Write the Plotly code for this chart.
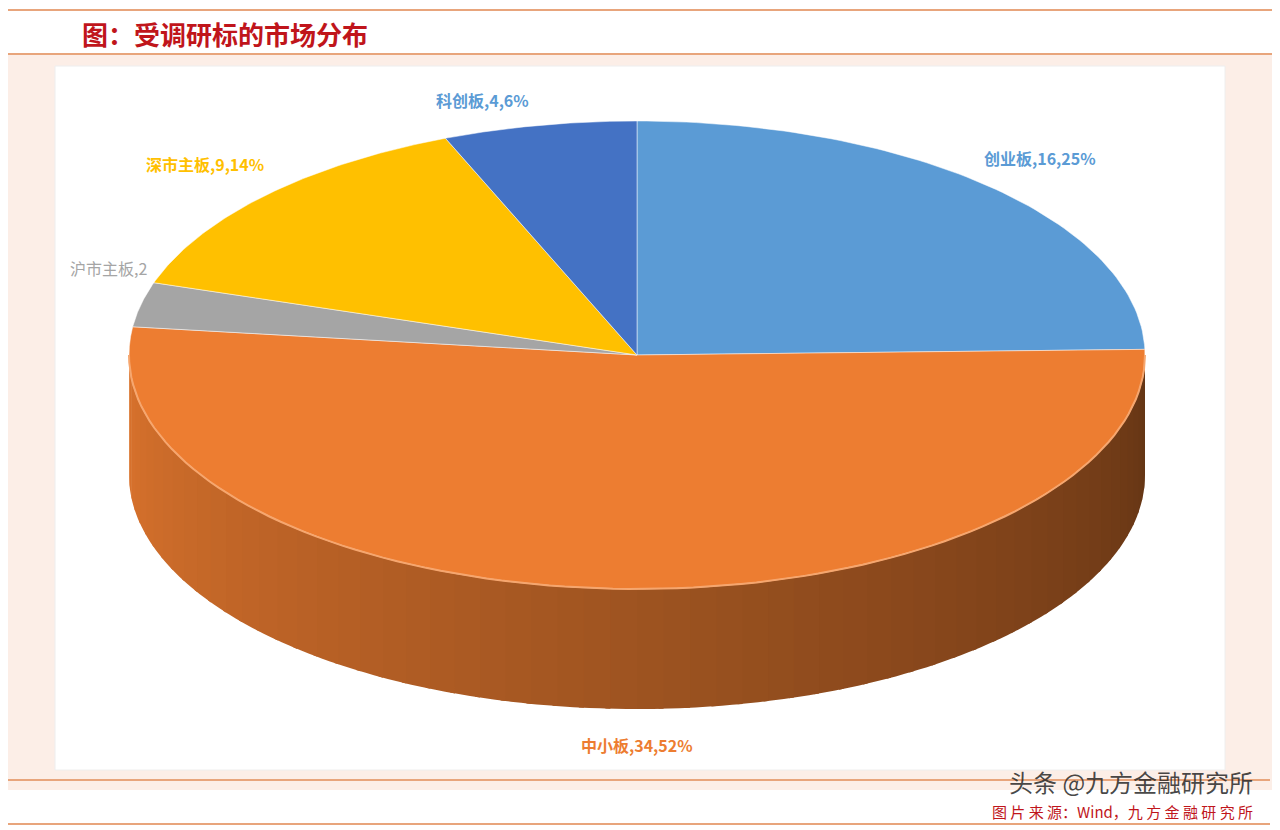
import numpy as np
import plotly.graph_objects as go

# 受调研标的市场分布 (clockwise from 12 o'clock)
markets = ['创业板', '中小板', '沪市主板', '深市主板', '科创板']
counts = [16, 34, 2, 9, 4]
pcts = ['25%', '52%', '3%', '14%', '6%']
colors = ['#5B9BD5', '#ED7D31', '#A5A5A5', '#FFC000', '#4472C4']

# pseudo-3D pie geometry (pixel space, y down)
cx, cy, rx, ry, depth = 637, 355, 508, 234, 120

fig = go.Figure()


def pt(theta):
    return cx + rx * np.sin(theta), cy - ry * np.cos(theta)


def mix(c, f):
    r, g, b = int(c[1:3], 16), int(c[3:5], 16), int(c[5:7], 16)
    return 'rgb(%d,%d,%d)' % (r * f, g * f, b * f)


total = sum(counts)
bounds = np.concatenate([[0], np.cumsum(counts) / total * 2 * np.pi])

# side wall: front half of the ellipse, lighter on the left, darker on the right
edges = np.linspace(np.pi / 2, 3 * np.pi / 2, 61)
for a0, a1 in zip(edges[:-1], edges[1:]):
    mid = (a0 + a1) / 2
    k = int(np.searchsorted(bounds, mid) - 1)
    f = 0.42 + 0.5 * (mid - np.pi / 2) / np.pi
    t = np.linspace(a0, a1 + 0.01, 4)
    x, y = pt(t)
    xs = list(x) + list(x[::-1])
    ys = list(y) + list(y[::-1] + depth)
    fig.add_trace(go.Scatter(x=xs, y=ys, fill='toself', mode='none',
                             fillcolor=mix(colors[k], f), hoverinfo='skip', showlegend=False))

# top faces
for i, m in enumerate(markets):
    t = np.linspace(bounds[i], bounds[i + 1], 80)
    x, y = pt(t)
    fig.add_trace(go.Scatter(x=[cx] + list(x) + [cx], y=[cy] + list(y) + [cy],
                             fill='toself', mode='lines', line=dict(color='white', width=0.5),
                             fillcolor=colors[i], name=m, hoverinfo='name', showlegend=False))

# bright rim on front top edge
t = np.linspace(np.pi / 2, 3 * np.pi / 2, 100)
x, y = pt(t)
fig.add_trace(go.Scatter(x=x, y=y, mode='lines', line=dict(color='#F6A66E', width=2),
                         hoverinfo='skip', showlegend=False))

label_pos = [(1040, 158), (637, 745), (108, 268), (205, 164), (482, 100)]
label_col = ['#5B9BD5', '#ED7D31', '#A5A5A5', '#FFC000', '#5B9BD5']
for i, m in enumerate(markets):
    txt = '<b>%s,%d,%s</b>' % (m, counts[i], pcts[i]) if i != 2 else '%s,%d' % (m, counts[i])
    fig.add_annotation(x=label_pos[i][0], y=label_pos[i][1], xref='x', yref='y',
                       text=txt, showarrow=False, font=dict(size=16, color=label_col[i]))

line = '#E8A57C'
shapes = [
    dict(type='rect', x0=5, x1=1275, y0=55, y1=790, fillcolor='#FCEEE7', line_width=0, layer='below'),
    dict(type='rect', x0=55, x1=1225, y0=66, y1=770, fillcolor='white', line=dict(color='#EEE', width=1), layer='below'),
    dict(type='line', x0=0, x1=1280, y0=10, y1=10, line=dict(color=line, width=2)),
    dict(type='line', x0=0, x1=1280, y0=54, y1=54, line=dict(color=line, width=2)),
    dict(type='line', x0=0, x1=1270, y0=780, y1=780, line=dict(color=line, width=2)),
    dict(type='line', x0=0, x1=1270, y0=824, y1=824, line=dict(color=line, width=2)),
]

fig.add_annotation(x=80, y=33, xref='x', yref='y', xanchor='left', showarrow=False,
                   text='<b>图：受调研标的市场分布</b>', font=dict(size=26, color='#C0151B', family='Noto Sans CJK SC'))
fig.add_annotation(x=1255, y=811, xref='x', yref='y', xanchor='right', showarrow=False,
                   text='图 片 来 源：Wind，九 方 金 融 研 究 所', font=dict(size=15, color='#C0151B', family='Noto Sans CJK SC'))
fig.add_annotation(x=1255, y=781, xref='x', yref='y', xanchor='right', showarrow=False,
                   text='头条 @九方金融研究所', font=dict(size=24, color='rgba(40,40,40,0.85)', family='Noto Sans CJK SC'))

# page body has an 8px margin, so shift the pixel ranges to keep the layout aligned
fig.update_layout(
    width=1280, height=830, margin=dict(l=0, r=0, t=0, b=0),
    paper_bgcolor='white', plot_bgcolor='white', shapes=shapes,
    font=dict(family='Noto Sans CJK SC'),
    xaxis=dict(range=[8, 1288], visible=False, fixedrange=True),
    yaxis=dict(range=[838, 8], visible=False, fixedrange=True),
)

fig.write_html("out.html")
